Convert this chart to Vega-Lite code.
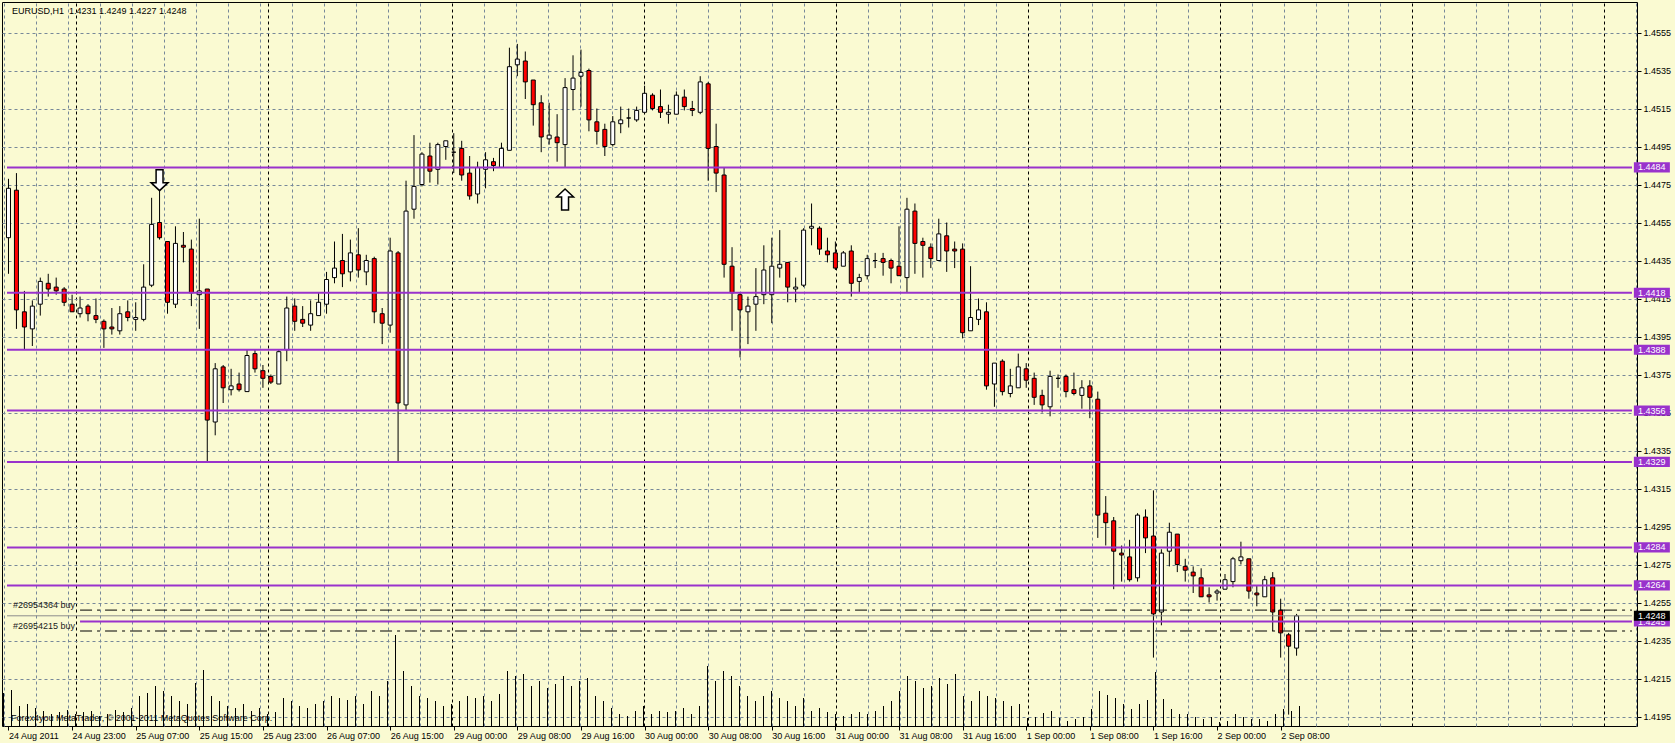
{
  "$schema": "https://vega.github.io/schema/vega-lite/v6.json",
  "width": 1635,
  "height": 724,
  "autosize": {"type": "none"},
  "padding": {"left": 2, "top": 2, "right": 38, "bottom": 17},
  "background": "#FAFAD2",
  "config": {"view": {"stroke": "#000000", "fill": "#FAFAD2"}, "font": "Liberation Sans", "axis": {"labelOverlap": false}},
  "datasets": {
    "bars": [
      {"i":0,"o":1.4447,"h":1.4478,"l":1.4428,"c":1.4473,"v":660},
      {"i":1,"o":1.4472,"h":1.4481,"l":1.4399,"c":1.4409,"v":720},
      {"i":2,"o":1.4408,"h":1.4419,"l":1.4388,"c":1.4400,"v":400},
      {"i":3,"o":1.4399,"h":1.4414,"l":1.4390,"c":1.4411,"v":440},
      {"i":4,"o":1.4412,"h":1.4426,"l":1.4406,"c":1.4424,"v":360},
      {"i":5,"o":1.4423,"h":1.4428,"l":1.4416,"c":1.4420,"v":300},
      {"i":6,"o":1.4421,"h":1.4426,"l":1.4417,"c":1.4419,"v":240},
      {"i":7,"o":1.4420,"h":1.4421,"l":1.4411,"c":1.4413,"v":280},
      {"i":8,"o":1.4412,"h":1.4417,"l":1.4408,"c":1.4408,"v":320},
      {"i":9,"o":1.4407,"h":1.4416,"l":1.4405,"c":1.4410,"v":240},
      {"i":10,"o":1.4411,"h":1.4412,"l":1.4403,"c":1.4407,"v":280},
      {"i":11,"o":1.4406,"h":1.4415,"l":1.4402,"c":1.4404,"v":300},
      {"i":12,"o":1.4403,"h":1.4404,"l":1.4389,"c":1.4399,"v":200},
      {"i":13,"o":1.4400,"h":1.4410,"l":1.4396,"c":1.4399,"v":240},
      {"i":14,"o":1.4398,"h":1.4411,"l":1.4396,"c":1.4407,"v":320},
      {"i":15,"o":1.4408,"h":1.4414,"l":1.4403,"c":1.4405,"v":280},
      {"i":16,"o":1.4404,"h":1.4413,"l":1.4398,"c":1.4405,"v":360},
      {"i":17,"o":1.4404,"h":1.4433,"l":1.4403,"c":1.4421,"v":600},
      {"i":18,"o":1.4422,"h":1.4468,"l":1.4421,"c":1.4454,"v":660},
      {"i":19,"o":1.4455,"h":1.4472,"l":1.4446,"c":1.4447,"v":800},
      {"i":20,"o":1.4445,"h":1.4445,"l":1.4407,"c":1.4413,"v":700},
      {"i":21,"o":1.4412,"h":1.4453,"l":1.4410,"c":1.4444,"v":600},
      {"i":22,"o":1.4443,"h":1.4450,"l":1.4434,"c":1.4442,"v":500},
      {"i":23,"o":1.4441,"h":1.4446,"l":1.4411,"c":1.4418,"v":440},
      {"i":24,"o":1.4417,"h":1.4457,"l":1.4399,"c":1.4419,"v":860},
      {"i":25,"o":1.4420,"h":1.4420,"l":1.4329,"c":1.4351,"v":1120},
      {"i":26,"o":1.4350,"h":1.4381,"l":1.4343,"c":1.4378,"v":600},
      {"i":27,"o":1.4379,"h":1.4380,"l":1.4360,"c":1.4368,"v":500},
      {"i":28,"o":1.4367,"h":1.4378,"l":1.4364,"c":1.4369,"v":400},
      {"i":29,"o":1.4370,"h":1.4376,"l":1.4366,"c":1.4367,"v":360},
      {"i":30,"o":1.4366,"h":1.4388,"l":1.4366,"c":1.4385,"v":440},
      {"i":31,"o":1.4386,"h":1.4388,"l":1.4376,"c":1.4378,"v":300},
      {"i":32,"o":1.4377,"h":1.4380,"l":1.4368,"c":1.4373,"v":360},
      {"i":33,"o":1.4374,"h":1.4375,"l":1.4370,"c":1.4371,"v":240},
      {"i":34,"o":1.4370,"h":1.4388,"l":1.4370,"c":1.4387,"v":280},
      {"i":35,"o":1.4388,"h":1.4416,"l":1.4382,"c":1.4410,"v":560},
      {"i":36,"o":1.4411,"h":1.4415,"l":1.4398,"c":1.4403,"v":500},
      {"i":37,"o":1.4404,"h":1.4411,"l":1.4400,"c":1.4402,"v":400},
      {"i":38,"o":1.4401,"h":1.4414,"l":1.4398,"c":1.4407,"v":360},
      {"i":39,"o":1.4406,"h":1.4418,"l":1.4406,"c":1.4413,"v":440},
      {"i":40,"o":1.4412,"h":1.4429,"l":1.4407,"c":1.4425,"v":500},
      {"i":41,"o":1.4426,"h":1.4445,"l":1.4423,"c":1.4431,"v":600},
      {"i":42,"o":1.4435,"h":1.4449,"l":1.4421,"c":1.4428,"v":560},
      {"i":43,"o":1.4429,"h":1.4446,"l":1.4424,"c":1.4439,"v":520},
      {"i":44,"o":1.4438,"h":1.4452,"l":1.4426,"c":1.4430,"v":600},
      {"i":45,"o":1.4429,"h":1.4438,"l":1.4422,"c":1.4435,"v":440},
      {"i":46,"o":1.4436,"h":1.4437,"l":1.4402,"c":1.4408,"v":700},
      {"i":47,"o":1.4407,"h":1.4410,"l":1.4391,"c":1.4402,"v":600},
      {"i":48,"o":1.4401,"h":1.4447,"l":1.4397,"c":1.4440,"v":900},
      {"i":49,"o":1.4439,"h":1.4440,"l":1.4329,"c":1.4360,"v":1820},
      {"i":50,"o":1.4359,"h":1.4477,"l":1.4356,"c":1.4461,"v":1100},
      {"i":51,"o":1.4462,"h":1.4501,"l":1.4457,"c":1.4474,"v":800},
      {"i":52,"o":1.4475,"h":1.4492,"l":1.4474,"c":1.4491,"v":600},
      {"i":53,"o":1.4490,"h":1.4497,"l":1.4476,"c":1.4482,"v":560},
      {"i":54,"o":1.4483,"h":1.4497,"l":1.4475,"c":1.4496,"v":500},
      {"i":55,"o":1.4495,"h":1.4498,"l":1.4488,"c":1.4498,"v":400},
      {"i":56,"o":1.4492,"h":1.4502,"l":1.4481,"c":1.4492,"v":440},
      {"i":57,"o":1.4494,"h":1.4498,"l":1.4477,"c":1.4480,"v":500},
      {"i":58,"o":1.4481,"h":1.4490,"l":1.4467,"c":1.4469,"v":600},
      {"i":59,"o":1.4470,"h":1.4487,"l":1.4465,"c":1.4484,"v":560},
      {"i":60,"o":1.4483,"h":1.4492,"l":1.4473,"c":1.4488,"v":600},
      {"i":61,"o":1.4487,"h":1.4489,"l":1.4482,"c":1.4485,"v":500},
      {"i":62,"o":1.4484,"h":1.4497,"l":1.4484,"c":1.4494,"v":640},
      {"i":63,"o":1.4493,"h":1.4547,"l":1.4493,"c":1.4537,"v":1100},
      {"i":64,"o":1.4538,"h":1.4549,"l":1.4532,"c":1.4541,"v":1000},
      {"i":65,"o":1.4540,"h":1.4545,"l":1.4520,"c":1.4529,"v":1040},
      {"i":66,"o":1.4530,"h":1.4530,"l":1.4506,"c":1.4517,"v":800},
      {"i":67,"o":1.4518,"h":1.4522,"l":1.4492,"c":1.4500,"v":900},
      {"i":68,"o":1.4499,"h":1.4518,"l":1.4496,"c":1.4501,"v":760},
      {"i":69,"o":1.4500,"h":1.4512,"l":1.4487,"c":1.4497,"v":840},
      {"i":70,"o":1.4496,"h":1.4531,"l":1.4484,"c":1.4526,"v":1000},
      {"i":71,"o":1.4525,"h":1.4543,"l":1.4514,"c":1.4531,"v":800},
      {"i":72,"o":1.4532,"h":1.4546,"l":1.4516,"c":1.4534,"v":900},
      {"i":73,"o":1.4535,"h":1.4536,"l":1.4503,"c":1.4509,"v":960},
      {"i":74,"o":1.4508,"h":1.4515,"l":1.4496,"c":1.4503,"v":600},
      {"i":75,"o":1.4504,"h":1.4507,"l":1.4490,"c":1.4495,"v":500},
      {"i":76,"o":1.4496,"h":1.4511,"l":1.4495,"c":1.4508,"v":360},
      {"i":77,"o":1.4507,"h":1.4516,"l":1.4502,"c":1.4509,"v":240},
      {"i":78,"o":1.4510,"h":1.4515,"l":1.4505,"c":1.4510,"v":200},
      {"i":79,"o":1.4509,"h":1.4516,"l":1.4508,"c":1.4514,"v":300},
      {"i":80,"o":1.4513,"h":1.4527,"l":1.4512,"c":1.4523,"v":400},
      {"i":81,"o":1.4522,"h":1.4523,"l":1.4514,"c":1.4515,"v":240},
      {"i":82,"o":1.4516,"h":1.4525,"l":1.4510,"c":1.4513,"v":300},
      {"i":83,"o":1.4512,"h":1.4517,"l":1.4507,"c":1.4513,"v":280},
      {"i":84,"o":1.4512,"h":1.4524,"l":1.4512,"c":1.4522,"v":300},
      {"i":85,"o":1.4521,"h":1.4525,"l":1.4514,"c":1.4516,"v":360},
      {"i":86,"o":1.4515,"h":1.4519,"l":1.4511,"c":1.4514,"v":240},
      {"i":87,"o":1.4513,"h":1.4532,"l":1.4512,"c":1.4529,"v":400},
      {"i":88,"o":1.4528,"h":1.4529,"l":1.4477,"c":1.4494,"v":1200},
      {"i":89,"o":1.4495,"h":1.4507,"l":1.4471,"c":1.4481,"v":900},
      {"i":90,"o":1.4480,"h":1.4484,"l":1.4426,"c":1.4433,"v":1100},
      {"i":91,"o":1.4432,"h":1.4442,"l":1.4398,"c":1.4418,"v":1000},
      {"i":92,"o":1.4417,"h":1.4418,"l":1.4384,"c":1.4409,"v":800},
      {"i":93,"o":1.4408,"h":1.4416,"l":1.4391,"c":1.4411,"v":600},
      {"i":94,"o":1.4412,"h":1.4431,"l":1.4398,"c":1.4416,"v":500},
      {"i":95,"o":1.4417,"h":1.4443,"l":1.4412,"c":1.4430,"v":600},
      {"i":96,"o":1.4417,"h":1.4447,"l":1.4402,"c":1.4432,"v":700},
      {"i":97,"o":1.4431,"h":1.4451,"l":1.4426,"c":1.4433,"v":560},
      {"i":98,"o":1.4434,"h":1.4434,"l":1.4413,"c":1.4421,"v":500},
      {"i":99,"o":1.4420,"h":1.4426,"l":1.4413,"c":1.4421,"v":400},
      {"i":100,"o":1.4422,"h":1.4452,"l":1.4421,"c":1.4451,"v":560},
      {"i":101,"o":1.4452,"h":1.4465,"l":1.4443,"c":1.4453,"v":300},
      {"i":102,"o":1.4452,"h":1.4453,"l":1.4438,"c":1.4441,"v":360},
      {"i":103,"o":1.4440,"h":1.4447,"l":1.4434,"c":1.4438,"v":280},
      {"i":104,"o":1.4439,"h":1.4445,"l":1.4430,"c":1.4431,"v":240},
      {"i":105,"o":1.4432,"h":1.4440,"l":1.4432,"c":1.4439,"v":200},
      {"i":106,"o":1.4440,"h":1.4443,"l":1.4416,"c":1.4423,"v":240},
      {"i":107,"o":1.4424,"h":1.4428,"l":1.4418,"c":1.4426,"v":280},
      {"i":108,"o":1.4427,"h":1.4438,"l":1.4425,"c":1.4436,"v":240},
      {"i":109,"o":1.4435,"h":1.4439,"l":1.4431,"c":1.4435,"v":300},
      {"i":110,"o":1.4436,"h":1.4439,"l":1.4427,"c":1.4434,"v":400},
      {"i":111,"o":1.4435,"h":1.4436,"l":1.4423,"c":1.4431,"v":500},
      {"i":112,"o":1.4432,"h":1.4453,"l":1.4427,"c":1.4427,"v":700},
      {"i":113,"o":1.4426,"h":1.4468,"l":1.4418,"c":1.4462,"v":1000},
      {"i":114,"o":1.4461,"h":1.4465,"l":1.4428,"c":1.4444,"v":900},
      {"i":115,"o":1.4445,"h":1.4447,"l":1.4426,"c":1.4443,"v":760},
      {"i":116,"o":1.4442,"h":1.4444,"l":1.4431,"c":1.4436,"v":800},
      {"i":117,"o":1.4435,"h":1.4457,"l":1.4435,"c":1.4449,"v":960},
      {"i":118,"o":1.4448,"h":1.4455,"l":1.4429,"c":1.4440,"v":840},
      {"i":119,"o":1.4441,"h":1.4445,"l":1.4431,"c":1.4440,"v":1040},
      {"i":120,"o":1.4441,"h":1.4444,"l":1.4394,"c":1.4397,"v":600},
      {"i":121,"o":1.4398,"h":1.4432,"l":1.4398,"c":1.4405,"v":500},
      {"i":122,"o":1.4404,"h":1.4415,"l":1.4401,"c":1.4409,"v":700},
      {"i":123,"o":1.4408,"h":1.4413,"l":1.4367,"c":1.4369,"v":600},
      {"i":124,"o":1.4370,"h":1.4381,"l":1.4358,"c":1.4381,"v":560},
      {"i":125,"o":1.4382,"h":1.4383,"l":1.4364,"c":1.4366,"v":500},
      {"i":126,"o":1.4365,"h":1.4378,"l":1.4363,"c":1.4369,"v":400},
      {"i":127,"o":1.4368,"h":1.4386,"l":1.4368,"c":1.4379,"v":440},
      {"i":128,"o":1.4378,"h":1.4381,"l":1.4368,"c":1.4372,"v":160},
      {"i":129,"o":1.4373,"h":1.4376,"l":1.4359,"c":1.4363,"v":180},
      {"i":130,"o":1.4364,"h":1.4367,"l":1.4355,"c":1.4359,"v":260},
      {"i":131,"o":1.4358,"h":1.4377,"l":1.4353,"c":1.4374,"v":300},
      {"i":132,"o":1.4373,"h":1.4375,"l":1.4368,"c":1.4373,"v":160},
      {"i":133,"o":1.4374,"h":1.4375,"l":1.4363,"c":1.4366,"v":100},
      {"i":134,"o":1.4367,"h":1.4376,"l":1.4364,"c":1.4365,"v":140},
      {"i":135,"o":1.4364,"h":1.4372,"l":1.4357,"c":1.4368,"v":180},
      {"i":136,"o":1.4369,"h":1.4372,"l":1.4352,"c":1.4363,"v":340},
      {"i":137,"o":1.4362,"h":1.4366,"l":1.4289,"c":1.4301,"v":700},
      {"i":138,"o":1.4302,"h":1.4311,"l":1.4285,"c":1.4297,"v":620},
      {"i":139,"o":1.4298,"h":1.4300,"l":1.4262,"c":1.4282,"v":560},
      {"i":140,"o":1.4281,"h":1.4285,"l":1.4266,"c":1.4280,"v":440},
      {"i":141,"o":1.4279,"h":1.4288,"l":1.4266,"c":1.4267,"v":340},
      {"i":142,"o":1.4268,"h":1.4302,"l":1.4266,"c":1.4301,"v":440},
      {"i":143,"o":1.4300,"h":1.4304,"l":1.4281,"c":1.4289,"v":520},
      {"i":144,"o":1.4290,"h":1.4314,"l":1.4226,"c":1.4249,"v":1080},
      {"i":145,"o":1.4250,"h":1.4283,"l":1.4243,"c":1.4281,"v":540},
      {"i":146,"o":1.4282,"h":1.4297,"l":1.4274,"c":1.4292,"v":340},
      {"i":147,"o":1.4291,"h":1.4291,"l":1.4271,"c":1.4275,"v":240},
      {"i":148,"o":1.4274,"h":1.4278,"l":1.4266,"c":1.4272,"v":240},
      {"i":149,"o":1.4271,"h":1.4274,"l":1.4260,"c":1.4269,"v":180},
      {"i":150,"o":1.4268,"h":1.4273,"l":1.4258,"c":1.4258,"v":140},
      {"i":151,"o":1.4259,"h":1.4263,"l":1.4255,"c":1.4258,"v":180},
      {"i":152,"o":1.4260,"h":1.4262,"l":1.4256,"c":1.4261,"v":80},
      {"i":153,"o":1.4262,"h":1.4270,"l":1.4262,"c":1.4267,"v":100},
      {"i":154,"o":1.4266,"h":1.4279,"l":1.4263,"c":1.4278,"v":240},
      {"i":155,"o":1.4277,"h":1.4287,"l":1.4275,"c":1.4279,"v":180},
      {"i":156,"o":1.4278,"h":1.4278,"l":1.4257,"c":1.4261,"v":140},
      {"i":157,"o":1.4260,"h":1.4264,"l":1.4253,"c":1.4259,"v":140},
      {"i":158,"o":1.4258,"h":1.4269,"l":1.4258,"c":1.4267,"v":100},
      {"i":159,"o":1.4268,"h":1.4271,"l":1.4240,"c":1.4250,"v":240},
      {"i":160,"o":1.4251,"h":1.4257,"l":1.4226,"c":1.4239,"v":340},
      {"i":161,"o":1.4238,"h":1.4239,"l":1.4196,"c":1.4232,"v":300},
      {"i":162,"o":1.4231,"h":1.4249,"l":1.4227,"c":1.4248,"v":400}
    ],
    "hlines": [
      {"p":1.4484},{"p":1.4418},{"p":1.4388},{"p":1.4356},
      {"p":1.4329},{"p":1.4284},{"p":1.4264},{"p":1.4245}
    ],
    "orders": [
      {"p":1.4251,"label":"#26954364 buy"},
      {"p":1.4240,"label":"#26954215 buy"}
    ],
    "arrows": [
      {"i":19,"p":1.44773,"dir":"down"},
      {"i":70,"p":1.44671,"dir":"up"}
    ]
  },
  "layer": [
    {
      "data": {"name": "bars"},
      "mark": {"type": "rule", "color": "#000000", "strokeWidth": 1},
      "encoding": {
        "x": {
          "field": "i", "type": "quantitative",
          "scale": {"domain": [-0.1875, 204.1875], "nice": false, "zero": false},
          "axis": {
            "title": null, "orient": "top",
            "values": [0,4,8,9,12,16,20,24,28,32,33,36,40,44,48,52,56,60,64,68,72,76,80,84,88,92,96,100,104,108,112,116,120,124,128,132,136,140,144,148,152,156,160,164,168,172,176,180,184,188,192,196,200,204],
            "grid": true,
            "gridColor": {"condition": {"test": "indexof([9,33,56,80,104,128,152,176,200], datum.value) >= 0", "value": "#000000"}, "value": "#778899"},
            "gridDash": [3, 3],
            "gridWidth": 1,
            "domain": false,
            "ticks": false,
            "labels": false
          }
        },
        "y": {"field": "v", "type": "quantitative", "scale": {"domain": [0, 14480], "nice": false, "zero": true}, "axis": null},
        "y2": {"datum": 0}
      }
    },
    {
      "layer": [
        {
          "data": {"name": "bars"},
          "mark": {"type": "rule", "color": "#000000", "strokeWidth": 1},
          "encoding": {
            "x": {
              "field": "i", "type": "quantitative",
              "scale": {"domain": [-0.1875, 204.1875], "nice": false, "zero": false},
              "axis": {
                "title": null, "orient": "bottom",
                "values": [0,8,16,24,32,40,48,56,64,72,80,88,96,104,112,120,128,136,144,152,160],
                "grid": false,
                "domain": false,
                "tickSize": 4,
                "tickColor": "#000000",
                "labelExpr": "['24 Aug 2011','24 Aug 23:00','25 Aug 07:00','25 Aug 15:00','25 Aug 23:00','26 Aug 07:00','26 Aug 15:00','29 Aug 00:00','29 Aug 08:00','29 Aug 16:00','30 Aug 00:00','30 Aug 08:00','30 Aug 16:00','31 Aug 00:00','31 Aug 08:00','31 Aug 16:00','1 Sep 00:00','1 Sep 08:00','1 Sep 16:00','2 Sep 00:00','2 Sep 08:00'][round(datum.value / 8)]",
                "labelAlign": "left",
                "labelBaseline": "top",
                "labelPadding": 1,
                "labelFont": "Liberation Sans",
                "labelFontSize": 9,
                "labelColor": "#000000",
                "labelFlush": false,
                "labelOverlap": false,
                "labelBound": false
              }
            },
            "y": {
              "field": "l", "type": "quantitative",
              "scale": {"domain": [1.419, 1.4571053], "nice": false, "zero": false},
              "axis": {
                "title": null, "orient": "right",
                "values": [1.4195,1.4215,1.4235,1.4255,1.4275,1.4295,1.4315,1.4335,1.4355,1.4375,1.4395,1.4415,1.4435,1.4455,1.4475,1.4495,1.4515,1.4535,1.4555],
                "format": ".4f",
                "grid": true,
                "gridColor": "#778899",
                "gridDash": [3, 3],
                "gridWidth": 1,
                "domain": false,
                "tickSize": 4,
                "tickColor": "#000000",
                "labelFont": "Liberation Sans",
                "labelFontSize": 9,
                "labelColor": "#000000",
                "labelPadding": 2,
                "labelAlign": "left",
                "labelBaseline": "middle",
                "labelFlush": false,
                "labelOverlap": false
              }
            },
            "y2": {"field": "h"}
          }
        },
        {
          "data": {"name": "bars"},
          "mark": {"type": "bar", "size": 4, "stroke": "#000000", "strokeWidth": 1},
          "encoding": {
            "x": {"field": "i", "type": "quantitative"},
            "y": {"field": "o", "type": "quantitative"},
            "y2": {"field": "c"},
            "fill": {"condition": {"test": "datum.c < datum.o", "value": "#FF0000"}, "value": "#FFFFFF"}
          }
        },
        {
          "data": {"values": [{"p": 1.4248}]},
          "mark": {"type": "rule", "color": "#8C8C8C", "strokeWidth": 1},
          "encoding": {
            "y": {"field": "p", "type": "quantitative"},
            "x": {"datum": -0.1875},
            "x2": {"datum": 204.1875}
          }
        },
        {
          "data": {"name": "hlines"},
          "transform": [{"filter": "datum.p != 1.4245"}],
          "mark": {"type": "rule", "color": "#9932CC", "strokeWidth": 2},
          "encoding": {
            "y": {"field": "p", "type": "quantitative"},
            "x": {"datum": -0.1875},
            "x2": {"datum": 204.1875}
          }
        },
        {
          "data": {"name": "hlines"},
          "transform": [{"filter": "datum.p == 1.4245"}],
          "mark": {"type": "rule", "color": "#9932CC", "strokeWidth": 2},
          "encoding": {
            "y": {"field": "p", "type": "quantitative"},
            "x": {"datum": 9.0},
            "x2": {"datum": 204.1875}
          }
        },
        {
          "data": {"name": "orders"},
          "mark": {"type": "rule", "color": "#000000", "strokeWidth": 1, "strokeDash": [12, 5, 3, 5]},
          "encoding": {
            "y": {"field": "p", "type": "quantitative"},
            "x": {"datum": 9.0},
            "x2": {"datum": 204.1875}
          }
        },
        {
          "data": {"name": "orders"},
          "mark": {"type": "text", "align": "left", "baseline": "bottom", "dx": 6, "dy": 0, "fontSize": 9, "font": "Liberation Sans", "color": "#1A1A1A"},
          "encoding": {
            "y": {"field": "p", "type": "quantitative"},
            "x": {"datum": -0.1875},
            "text": {"field": "label"}
          }
        },
        {
          "data": {"name": "arrows"},
          "mark": {"type": "point", "filled": true, "fill": "#FFFFFF", "stroke": "#000000", "strokeWidth": 1.5, "opacity": 1, "size": 441},
          "encoding": {
            "x": {"field": "i", "type": "quantitative"},
            "y": {"field": "p", "type": "quantitative"},
            "shape": {
              "field": "dir", "type": "nominal",
              "scale": {"domain": ["down", "up"], "range": ["M-0.33,-1L0.33,-1L0.33,0.24L0.81,0.24L0,1L-0.81,0.24L-0.33,0.24Z", "M-0.33,1L0.33,1L0.33,-0.24L0.81,-0.24L0,-1L-0.81,-0.24L-0.33,-0.24Z"]},
              "legend": null
            }
          }
        },
        {
          "data": {"name": "hlines"},
          "mark": {"type": "point", "filled": true, "fill": "#9932CC", "opacity": 1, "strokeWidth": 0, "size": 1296, "shape": "M-1,-0.28L1,-0.28L1,0.28L-1,0.28Z"},
          "encoding": {
            "y": {"field": "p", "type": "quantitative"},
            "x": {"datum": 206.6875}
          }
        },
        {
          "data": {"name": "hlines"},
          "mark": {"type": "text", "align": "left", "baseline": "middle", "dx": 4, "fontSize": 9, "font": "Liberation Sans", "color": "#FFFFFF"},
          "encoding": {
            "y": {"field": "p", "type": "quantitative"},
            "x": {"datum": 204.4375},
            "text": {"field": "p", "type": "quantitative", "format": ".4f"}
          }
        },
        {
          "data": {"values": [{"p": 1.4248}]},
          "mark": {"type": "point", "filled": true, "fill": "#000000", "opacity": 1, "strokeWidth": 0, "size": 1296, "shape": "M-1,-0.28L1,-0.28L1,0.28L-1,0.28Z"},
          "encoding": {
            "y": {"field": "p", "type": "quantitative"},
            "x": {"datum": 206.6875}
          }
        },
        {
          "data": {"values": [{"p": 1.4248}]},
          "mark": {"type": "text", "align": "left", "baseline": "middle", "dx": 4, "fontSize": 9, "font": "Liberation Sans", "color": "#FFFFFF"},
          "encoding": {
            "y": {"field": "p", "type": "quantitative"},
            "x": {"datum": 204.4375},
            "text": {"field": "p", "type": "quantitative", "format": ".4f"}
          }
        },
        {
          "data": {"values": [{"t": "EURUSD,H1\u00a0 1.4231 1.4249 1.4227 1.4248"}]},
          "mark": {"type": "text", "align": "left", "baseline": "middle", "dx": 5, "dy": 9, "fontSize": 9, "font": "Liberation Sans", "color": "#000000"},
          "encoding": {
            "x": {"datum": -0.1875},
            "y": {"datum": 1.4571053},
            "text": {"field": "t"}
          }
        },
        {
          "data": {"values": [{"t": "Forex4you MetaTrader, © 2001-2011 MetaQuotes Software Corp."}]},
          "mark": {"type": "text", "align": "left", "baseline": "middle", "dx": 4, "dy": -8, "fontSize": 9, "font": "Liberation Sans", "color": "#000000"},
          "encoding": {
            "x": {"datum": -0.1875},
            "y": {"datum": 1.419},
            "text": {"field": "t"}
          }
        }
      ]
    }
  ],
  "resolve": {"scale": {"x": "independent", "y": "independent"}}
}
